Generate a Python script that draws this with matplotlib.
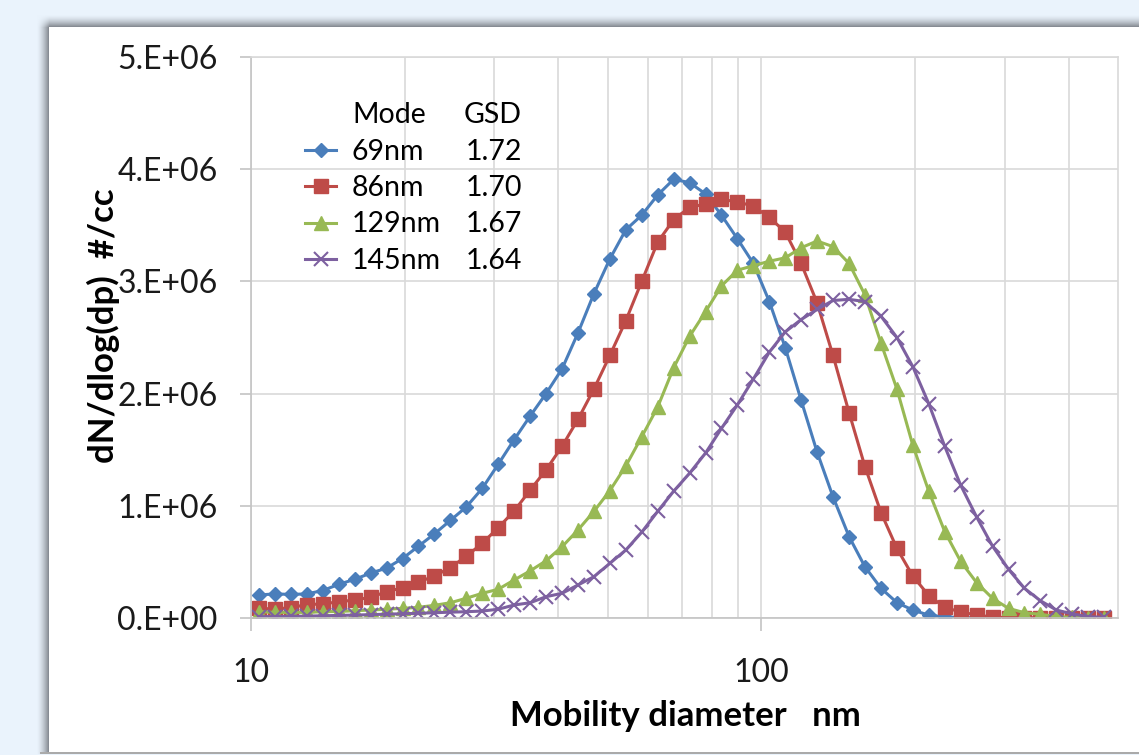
import numpy as np
import matplotlib
matplotlib.use('Agg')
import matplotlib.pyplot as plt
from matplotlib.ticker import FixedLocator, NullFormatter, FuncFormatter
from matplotlib.lines import Line2D

plt.rcParams['font.family'] = ['Lato', 'DejaVu Sans']

W, H = 1139, 755

# mobility diameter of each channel, nm
diameter = [10.37, 11.14, 11.97, 12.87, 13.83, 14.86, 15.97, 17.16, 18.44, 19.81,
            21.29, 22.88, 24.59, 26.42, 28.39, 30.51, 32.79, 35.24, 37.86, 40.69,
            43.72, 46.98, 50.49, 54.26, 58.30, 62.65, 67.33, 72.35, 77.75, 83.55,
            89.78, 96.48, 103.7, 111.4, 119.7, 128.6, 138.2, 148.6, 159.6, 171.6,
            184.4, 198.1, 212.9, 228.8, 245.8, 264.2, 283.9, 305.1, 327.8, 352.3,
            378.6, 406.8, 437.2, 469.8]

# dN/dlog(dp) in units of 1e6 #/cc
mode_69 = [0.205, 0.215, 0.21, 0.215, 0.245, 0.30, 0.345, 0.40, 0.445, 0.53,
           0.64, 0.75, 0.87, 0.99, 1.155, 1.37, 1.59, 1.80, 2.00, 2.22,
           2.54, 2.89, 3.20, 3.46, 3.59, 3.77, 3.91, 3.88, 3.78, 3.59,
           3.38, 3.16, 2.82, 2.41, 1.94, 1.48, 1.08, 0.725, 0.457, 0.265,
           0.137, 0.071, 0.025, 0.01, 0.004, 0.002, 0.001, 0.0, 0.0, 0.0,
           0.0, 0.0, 0.0, 0.0]
mode_86 = [0.086, 0.08, 0.092, 0.12, 0.125, 0.145, 0.16, 0.185, 0.234, 0.27,
           0.32, 0.374, 0.45, 0.55, 0.666, 0.805, 0.954, 1.14, 1.32, 1.53,
           1.77, 2.04, 2.34, 2.65, 3.00, 3.35, 3.55, 3.66, 3.69, 3.73,
           3.71, 3.67, 3.57, 3.44, 3.16, 2.81, 2.34, 1.83, 1.35, 0.94,
           0.62, 0.374, 0.20, 0.095, 0.053, 0.027, 0.008, 0.003, 0.001, 0.0,
           0.0, 0.0, 0.0, 0.0]
mode_129 = [0.056, 0.05, 0.05, 0.05, 0.056, 0.058, 0.065, 0.071, 0.078, 0.086,
            0.095, 0.113, 0.136, 0.176, 0.22, 0.256, 0.339, 0.42, 0.51, 0.635,
            0.784, 0.95, 1.135, 1.355, 1.615, 1.88, 2.23, 2.51, 2.73, 2.96,
            3.10, 3.14, 3.18, 3.21, 3.30, 3.36, 3.31, 3.16, 2.88, 2.45,
            2.04, 1.54, 1.13, 0.77, 0.505, 0.315, 0.175, 0.086, 0.047, 0.033,
            0.012, 0.006, 0.002, 0.001]
mode_145 = [0.012, 0.013, 0.015, 0.017, 0.02, 0.023, 0.026, 0.03, 0.034, 0.038,
            0.042, 0.047, 0.052, 0.056, 0.062, 0.078, 0.116, 0.136, 0.19, 0.22,
            0.294, 0.368, 0.487, 0.606, 0.765, 0.95, 1.13, 1.29, 1.47, 1.69,
            1.90, 2.13, 2.37, 2.55, 2.66, 2.75, 2.83, 2.84, 2.82, 2.69,
            2.50, 2.24, 1.91, 1.53, 1.185, 0.90, 0.64, 0.434, 0.265, 0.154,
            0.071, 0.036, 0.012, 0.006]

mode_names = ['69nm', '86nm', '129nm', '145nm']
gsd_values = ['1.72', '1.70', '1.67', '1.64']
series = [mode_69, mode_86, mode_129, mode_145]
colors = ['#4A7EBB', '#BE4B48', '#98B954', '#7D60A0']
markers = ['D', 's', '^', 'x']
msizes = [7, 9.5, 10, 9.5]


def fx(x):
    return x / W


def fy(y):
    return 1 - y / H


fig = plt.figure(figsize=(W / 100, H / 100), dpi=100)

# page background: light blue, white panel with a soft shadow on top/left
bg = fig.add_axes([0, 0, 1, 1], zorder=-10)
bg.set_axis_off()
xx, yy = np.meshgrid(np.arange(W), np.arange(H))
dx = np.clip((49 - xx) / 13.0, 0, 1)
dy = np.clip((27 - yy) / 13.0, 0, 1)
shade = ((1 - dx) * (1 - dy)) ** 1.6
light = np.array([234, 243, 252]) / 255
gray = np.array([122, 127, 134]) / 255
img = light * (1 - shade[..., None]) + gray * shade[..., None]
img[27:752, 49:] = 1.0
img[752:754, 40:] = np.array([170, 170, 170]) / 255
img[754:, :] = light
bg.imshow(img, extent=(0, W, H, 0), aspect='auto', interpolation='nearest')
bg.set_xlim(0, W)
bg.set_ylim(H, 0)

ax = fig.add_axes([fx(251), fy(618), (1118 - 251) / W, (618 - 57) / H])

d = np.array(diameter)
handles = []
for vals, c, m, ms in zip(series, colors, markers, msizes):
    mew = 1.5 if m == 'x' else 1.0
    h, = ax.plot(d, np.array(vals) * 1e6, color=c, lw=2.2, marker=m, ms=ms,
                 mfc=c, mec=c, mew=mew)
    handles.append(h)

ax.set_xscale('log')
ax.set_xlim(10, 500)
ax.set_ylim(0, 5e6)

ax.xaxis.set_major_locator(FixedLocator([10, 100]))
ax.xaxis.set_minor_locator(FixedLocator([20, 30, 40, 50, 60, 70, 80, 90,
                                         200, 300, 400]))
ax.xaxis.set_major_formatter(FuncFormatter(lambda v, p: f'{v:g}'))
ax.xaxis.set_minor_formatter(NullFormatter())
ax.set_yticks(np.arange(0, 5.01e6, 1e6))


def excel_sci(v, pos):
    if v == 0:
        return '0.E+00'
    e = int(np.floor(np.log10(abs(v))))
    return f'{v / 10**e:.0f}.E+{e:02d}'


ax.yaxis.set_major_formatter(FuncFormatter(excel_sci))

ax.grid(True, which='major', color='#D9D9D9', lw=1.2)
ax.grid(True, which='minor', axis='x', color='#D9D9D9', lw=1.2)
ax.set_axisbelow(True)
for s in ax.spines.values():
    s.set_color('#D9D9D9')
    s.set_linewidth(1.2)
ax.spines['left'].set_color('#C4C4C4')
ax.spines['bottom'].set_color('#C4C4C4')

ax.tick_params(axis='y', direction='out', length=8, width=1.2, color='#C4C4C4',
               pad=16, labelsize=23, labelcolor='#1A1A1A')
ax.tick_params(axis='x', which='major', direction='out', length=9, width=1.2,
               color='#C4C4C4', pad=20, labelsize=23, labelcolor='#1A1A1A')
ax.tick_params(axis='x', which='minor', length=0)

ax.set_xlabel('Mobility diameter   nm', fontsize=25, fontweight='bold',
              va='center')
ax.xaxis.set_label_coords((685 - 251) / 867, (618 - 716) / 561)
ax.set_ylabel('dN/dlog(dp)  #/cc', fontsize=25, fontweight='bold', va='center')
ax.yaxis.set_label_coords((103 - 251) / 867, (618 - 326) / 561)

# legend: names with markers, GSD as a second column, headers as text
leg1 = ax.legend(handles, mode_names, loc='upper left', frameon=False,
                 bbox_to_anchor=(fx(305), fy(139)), bbox_transform=fig.transFigure,
                 borderpad=0, borderaxespad=0, fontsize=20.5, labelspacing=0.36,
                 handlelength=1.1, handletextpad=0.55)
ax.add_artist(leg1)
blank = [Line2D([], [], lw=0) for _ in gsd_values]
ax.legend(blank, gsd_values, loc='upper left', frameon=False,
          bbox_to_anchor=(fx(466), fy(139)), bbox_transform=fig.transFigure,
          borderpad=0, borderaxespad=0, fontsize=20.5, labelspacing=0.36,
          handlelength=0, handletextpad=0)
fig.text(fx(352), fy(115), 'Mode', fontsize=20.5, va='center', ha='left')
fig.text(fx(464), fy(115), 'GSD', fontsize=20.5, va='center', ha='left')

fig.savefig('out.png', dpi=100)
